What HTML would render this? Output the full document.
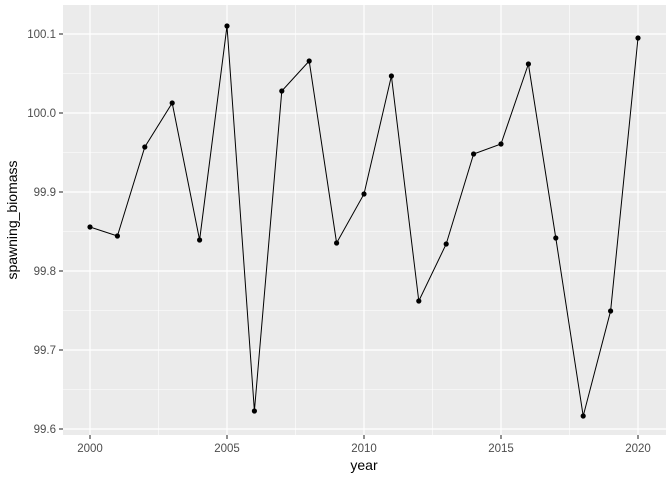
<html><body style="margin:0;background:#fff">
<svg width="672" height="480" xmlns="http://www.w3.org/2000/svg" font-family="Liberation Sans, sans-serif">
<rect x="63" y="5" width="603" height="430" fill="#ebebeb"/>
<g stroke="#fff" stroke-width="0.6">
<line x1="63" x2="666" y1="389.5" y2="389.5"/><line x1="63" x2="666" y1="310.5" y2="310.5"/><line x1="63" x2="666" y1="231.5" y2="231.5"/><line x1="63" x2="666" y1="152.5" y2="152.5"/><line x1="63" x2="666" y1="73.5" y2="73.5"/>
<line y1="5" y2="435" x1="158.5" x2="158.5"/><line y1="5" y2="435" x1="295.5" x2="295.5"/><line y1="5" y2="435" x1="432.5" x2="432.5"/><line y1="5" y2="435" x1="569.5" x2="569.5"/>
</g>
<g stroke="#fff" stroke-width="1.2">
<line x1="63" x2="666" y1="429" y2="429"/><line x1="63" x2="666" y1="350" y2="350"/><line x1="63" x2="666" y1="271" y2="271"/><line x1="63" x2="666" y1="192" y2="192"/><line x1="63" x2="666" y1="113" y2="113"/><line x1="63" x2="666" y1="34" y2="34"/>
<line y1="5" y2="435" x1="90" x2="90"/><line y1="5" y2="435" x1="227" x2="227"/><line y1="5" y2="435" x1="364" x2="364"/><line y1="5" y2="435" x1="501" x2="501"/><line y1="5" y2="435" x1="638" x2="638"/>
</g>
<g stroke="#333" stroke-width="1.1">
<line x1="59" x2="63" y1="429" y2="429"/><line x1="59" x2="63" y1="350" y2="350"/><line x1="59" x2="63" y1="271" y2="271"/><line x1="59" x2="63" y1="192" y2="192"/><line x1="59" x2="63" y1="113" y2="113"/><line x1="59" x2="63" y1="34" y2="34"/>
<line y1="435" y2="439" x1="90" x2="90"/><line y1="435" y2="439" x1="227" x2="227"/><line y1="435" y2="439" x1="364" x2="364"/><line y1="435" y2="439" x1="501" x2="501"/><line y1="435" y2="439" x1="638" x2="638"/>
</g>
<g font-size="11.5" fill="#4d4d4d" text-anchor="end">
<text x="56" y="433">99.6</text><text x="56" y="354">99.7</text><text x="56" y="275">99.8</text><text x="56" y="196">99.9</text><text x="56" y="117">100.0</text><text x="56" y="38">100.1</text>
</g>
<g font-size="11.5" fill="#4d4d4d" text-anchor="middle">
<text x="90" y="452">2000</text><text x="227" y="452">2005</text><text x="364" y="452">2010</text><text x="501" y="452">2015</text><text x="638" y="452">2020</text>
</g>
<text x="364" y="470" font-size="14" text-anchor="middle">year</text>
<text transform="translate(17,220) rotate(-90)" font-size="14" text-anchor="middle">spawning_biomass</text>
<polyline fill="none" stroke="#000" stroke-width="1" points="90,227 117.4,236 144.8,147 172.2,103 199.6,240 227,26 254.4,411 281.8,91 309.2,61 336.6,243 364,194 391.4,76 418.8,301 446.2,244 473.6,154 501,144 528.4,64 555.8,238 583.2,416 610.6,311 638,38"/>
<g fill="#000">
<circle cx="90" cy="227" r="2.6"/><circle cx="117.4" cy="236" r="2.6"/><circle cx="144.8" cy="147" r="2.6"/><circle cx="172.2" cy="103" r="2.6"/><circle cx="199.6" cy="240" r="2.6"/><circle cx="227" cy="26" r="2.6"/><circle cx="254.4" cy="411" r="2.6"/><circle cx="281.8" cy="91" r="2.6"/><circle cx="309.2" cy="61" r="2.6"/><circle cx="336.6" cy="243" r="2.6"/><circle cx="364" cy="194" r="2.6"/><circle cx="391.4" cy="76" r="2.6"/><circle cx="418.8" cy="301" r="2.6"/><circle cx="446.2" cy="244" r="2.6"/><circle cx="473.6" cy="154" r="2.6"/><circle cx="501" cy="144" r="2.6"/><circle cx="528.4" cy="64" r="2.6"/><circle cx="555.8" cy="238" r="2.6"/><circle cx="583.2" cy="416" r="2.6"/><circle cx="610.6" cy="311" r="2.6"/><circle cx="638" cy="38" r="2.6"/>
</g>
</svg>
</body></html>
